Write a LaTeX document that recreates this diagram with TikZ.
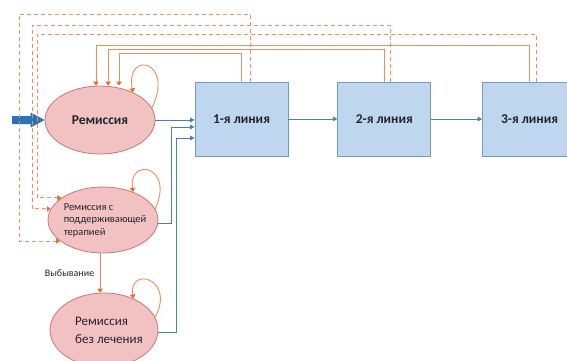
\documentclass[tikz,border=0pt]{standalone}
\usepackage{fontspec}
\setmainfont{Carlito}
\usepackage{xcolor}
\usetikzlibrary{arrows.meta,shapes.geometric,positioning}

\definecolor{remfill}{RGB}{242,194,194}
\definecolor{remdraw}{RGB}{200,120,120}
\definecolor{linefill}{RGB}{190,215,238}
\definecolor{linedraw}{RGB}{115,155,200}
\definecolor{flowblue}{RGB}{75,125,185}
\definecolor{backorange}{RGB}{238,140,95}
\definecolor{tiporange}{RGB}{230,110,50}
\definecolor{inblue}{RGB}{40,115,185}
\definecolor{txt}{RGB}{35,35,45}

\begin{document}
\begin{tikzpicture}[x=1pt, y=-1pt,
    remission/.style={ellipse, draw=remdraw, fill=remfill, line width=0.8pt, inner sep=0pt, text=txt},
    remtext/.style={text=txt, align=left},
    therapy/.style={rectangle, draw=linedraw, fill=linefill, line width=0.8pt,
        minimum height=74pt, font=\fontsize{13.5}{15}\selectfont\bfseries, text=txt},
    flow/.style={draw=flowblue, line width=0.8pt, -{Triangle[length=4.5pt,width=4.5pt]}},
    back/.style={draw=backorange, line width=0.9pt, -{Triangle[length=4pt,width=5.5pt,color=tiporange]}},
    relapse/.style={back, dash pattern=on 4pt off 3pt}]
    \useasboundingbox (0,0) rectangle (567,361);

    % states
    \node[remission, minimum width=110pt, minimum height=68pt,
        font=\fontsize{13.5}{15}\selectfont\bfseries] (rem) at (100,120) {Ремиссия};
    \node[remission, minimum width=110pt, minimum height=66pt,
        label={[remtext, xshift=2pt, font=\fontsize{10.5}{12.5}\selectfont]center:Ремиссия с\\поддерживающей\\терапией}] (maint) at (103,220) {};
    \node[remission, minimum width=108pt, minimum height=74pt,
        label={[remtext, xshift=5pt, font=\fontsize{13}{18}\selectfont]center:Ремиссия\\без лечения}] (free) at (104,330) {};
    \node[therapy, minimum width=93pt] (l1) at (241.5,119) {1-я линия};
    \node[therapy, minimum width=93pt, right=49pt of l1] (l2) {2-я линия};
    \node[therapy, minimum width=94pt, right=51pt of l2] (l3) {3-я линия};

    % entry
    \coordinate (entry) at (12,120);
    \fill[inblue] ([shift={(0,-4)}]entry) -- ([shift={(-14,-4)}]rem.west) -- ([shift={(-14,-7.5)}]rem.west)
        -- (rem.west) -- ([shift={(-14,7.5)}]rem.west) -- ([shift={(-14,4)}]rem.west)
        -- ([shift={(0,4)}]entry) -- cycle;

    % forward
    \draw[flow] (rem.east) -- (rem.east -| l1.west);
    \draw[flow] (maint.-4) -| (171,127) -- (l1.west |- 0,127);
    \draw[flow] (free.-3) -| (176,138) -- (l1.west |- 0,138);
    \draw[flow] (l1.east) -- (l1.east -| l2.west);
    \draw[flow] (l2.east) -- (l2.east -| l3.west);

    % self loops
    \draw[back] (rem.13) .. controls (175,60) and (125,50) .. (rem.40);
    \draw[back] (maint.12) .. controls (175,165) and (128,157) .. (maint.43);
    \draw[back] (free.14) .. controls (176,278) and (128,266) .. (free.47);

    % back to remission
    \draw[back] (l1.north) |- (119,53) -- (rem.north -| 119,0);
    \draw[back] (l2.north) |- (108,49) -- (rem.north -| 108,0);
    \draw[back] (l3.north) |- (96,45) -- (rem.north -| 96,0);

    % back to maintenance
    \draw[relapse] ([xshift=8.5pt]l1.north) |- (19,14) |- (maint.206);
    \draw[relapse] ([xshift=6.5pt]l2.north) |- (32,25) |- (maint.168);
    \draw[relapse] ([xshift=7pt]l3.north) |- (37,34) |- (maint.152);

    % drop out
    \draw[back] (maint.south -| 100,0) -- (free.north -| 100,0)
        node[midway, left=2pt, text=txt, font=\fontsize{10}{12}\selectfont] {Выбывание};
\end{tikzpicture}
\end{document}
